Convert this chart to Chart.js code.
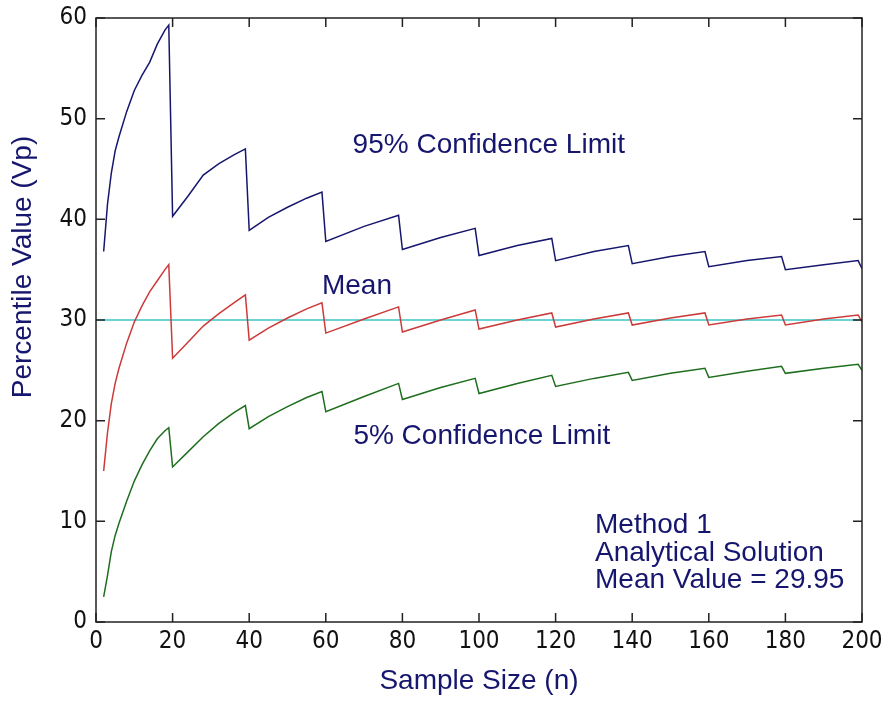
<!DOCTYPE html>
<html>
<head>
<meta charset="utf-8">
<script src="https://cdn.jsdelivr.net/npm/chart.js@4.4.0/dist/chart.umd.min.js"></script>
<style>
  html, body { margin: 0; padding: 0; background: #fff; }
  #wrap { width: 886px; height: 723px; }
</style>
</head>
<body>
<div id="wrap"><canvas id="c" width="886" height="723"></canvas></div>
<script>
// Percentile value vs sample size.
const sampleSize = [2, 3, 4, 5, 6, 8, 10, 12, 14, 16, 18, 19,
    20, 24, 28, 32, 36, 39,
    40, 45, 50, 55, 59,
    60, 70, 79, 80, 90, 99, 100, 110, 119, 120, 130, 139,
    140, 150, 159, 160, 170, 179, 180, 190, 199, 200];
const upper95 = [36.8, 41.5, 44.6, 46.8, 48.2, 50.7, 52.8, 54.3, 55.6, 57.4, 58.8, 59.3,
    40.3, 42.3, 44.4, 45.5, 46.4, 47.0,
    38.9, 40.2, 41.2, 42.1, 42.7,
    37.8, 39.3, 40.4, 37.0, 38.2, 39.1, 36.4, 37.4, 38.1, 35.9, 36.8, 37.4,
    35.6, 36.3, 36.8, 35.3, 35.9, 36.3, 35.0, 35.5, 35.9, 35.1];
const meanEst = [15.0, 18.8, 21.7, 23.7, 25.2, 27.7, 29.8, 31.4, 32.8, 33.9, 35.0, 35.5,
    26.2, 27.8, 29.4, 30.6, 31.7, 32.5,
    28.0, 29.2, 30.2, 31.1, 31.7,
    28.7, 30.1, 31.3, 28.8, 30.0, 31.0, 29.1, 30.0, 30.7, 29.3, 30.1, 30.7,
    29.5, 30.2, 30.7, 29.5, 30.1, 30.5, 29.5, 30.1, 30.5, 29.8];
const lower5 = [2.5, 4.6, 7.0, 8.6, 9.8, 12.0, 14.0, 15.6, 17.0, 18.2, 19.0, 19.3,
    15.4, 16.9, 18.4, 19.7, 20.8, 21.5,
    19.2, 20.4, 21.4, 22.3, 22.9,
    20.9, 22.4, 23.7, 22.1, 23.3, 24.2, 22.7, 23.7, 24.5, 23.4, 24.2, 24.8,
    24.0, 24.7, 25.2, 24.3, 24.9, 25.4, 24.7, 25.2, 25.6, 25.0];
const meanRange = [0, 200];
const meanValue = 30;
const xTicks = [0, 20, 40, 60, 80, 100, 120, 140, 160, 180, 200];
const yTicks = [0, 10, 20, 30, 40, 50, 60];

const navy = '#16166e';
const tickFont = { family: "'Liberation Sans Narrow', 'DejaVu Sans Condensed', 'Liberation Sans', sans-serif", size: 24 };
const textFont = "28px 'Liberation Sans', Arial, sans-serif";

const notes = [
    { text: '95% Confidence Limit', x: 67, y: 47.4 },
    { text: 'Mean', x: 59, y: 33.3 },
    { text: '5% Confidence Limit', x: 67.2, y: 18.4 },
    { text: 'Method 1', x: 130.3, y: 9.6 },
    { text: 'Analytical Solution', x: 130.3, y: 6.85 },
    { text: 'Mean Value = 29.95', x: 130.3, y: 4.1 }
];

const pts = arr => sampleSize.map((n, i) => ({ x: n, y: arr[i] }));

const frame = {
    id: 'frame',
    afterDatasetsDraw(chart) {
        const { ctx, chartArea: a, scales: { x, y } } = chart;
        ctx.save();
        ctx.strokeStyle = '#222';
        ctx.lineWidth = 1.5;
        ctx.strokeRect(a.left, a.top, a.right - a.left, a.bottom - a.top);
        ctx.beginPath();
        xTicks.forEach(v => {
            const px = x.getPixelForValue(v);
            ctx.moveTo(px, a.bottom); ctx.lineTo(px, a.bottom - 9);
            ctx.moveTo(px, a.top); ctx.lineTo(px, a.top + 9);
        });
        yTicks.forEach(v => {
            const py = y.getPixelForValue(v);
            ctx.moveTo(a.left, py); ctx.lineTo(a.left + 9, py);
            ctx.moveTo(a.right, py); ctx.lineTo(a.right - 9, py);
        });
        ctx.stroke();

        ctx.fillStyle = navy;
        ctx.font = textFont;
        ctx.textAlign = 'left';
        ctx.textBaseline = 'middle';
        notes.forEach(n => ctx.fillText(n.text, x.getPixelForValue(n.x), y.getPixelForValue(n.y)));

        // y axis title
        ctx.translate(23, 267);
        ctx.rotate(-Math.PI / 2);
        ctx.textAlign = 'center';
        ctx.fillText('Percentile Value (Vp)', 0, 0);
        ctx.restore();
    }
};

new Chart(document.getElementById('c').getContext('2d'), {
    type: 'line',
    data: {
        datasets: [
            { label: '95% Confidence Limit', data: pts(upper95), borderColor: '#16166e' },
            { label: 'Mean estimate', data: pts(meanEst), borderColor: '#cc3a3a' },
            { label: '5% Confidence Limit', data: pts(lower5), borderColor: '#1e6e1e' },
            { label: 'Mean', data: meanRange.map(n => ({ x: n, y: meanValue })), borderColor: '#3cc4c8' }
        ]
    },
    options: {
        responsive: false,
        animation: false,
        devicePixelRatio: 1,
        elements: {
            point: { radius: 0 },
            line: { borderWidth: 1.5, tension: 0 }
        },
        layout: { padding: { top: 18, right: 24, left: 0, bottom: 0 } },
        plugins: {
            legend: { display: false },
            tooltip: { enabled: false }
        },
        scales: {
            x: {
                type: 'linear',
                min: 0, max: 200,
                afterBuildTicks: s => { s.ticks = xTicks.map(v => ({ value: v })); },
                afterFit: s => { s.height = 101; s.paddingLeft = 0; s.paddingRight = 0; },
                grid: { display: false, drawTicks: false },
                border: { display: false },
                ticks: { font: tickFont, color: '#111', padding: 5, maxRotation: 0 },
                title: {
                    display: true, text: 'Sample Size (n)', color: navy,
                    font: { family: "'Liberation Sans', Arial, sans-serif", size: 28 },
                    padding: { top: 0, bottom: 25 }
                }
            },
            y: {
                min: 0, max: 60,
                afterBuildTicks: s => { s.ticks = yTicks.map(v => ({ value: v })); },
                afterFit: s => { s.width = 96; s.paddingTop = 0; s.paddingBottom = 0; },
                grid: { display: false, drawTicks: false },
                border: { display: false },
                ticks: { font: tickFont, color: '#111', padding: 9 }
            }
        }
    },
    plugins: [frame]
});
</script>
</body>
</html>
